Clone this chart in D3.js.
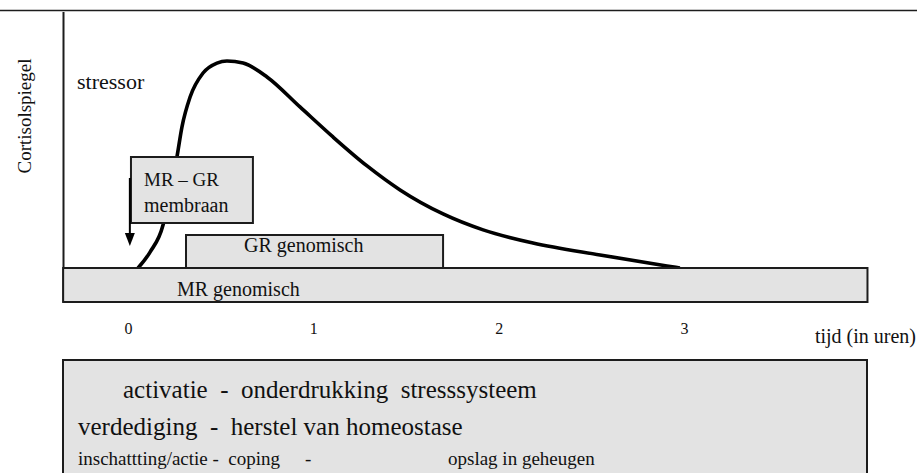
<!DOCTYPE html>
<html><head><meta charset="utf-8">
<script src="https://cdn.jsdelivr.net/npm/d3@7"></script>
<style>
html,body{margin:0;padding:0;background:#fff;}
svg{display:block;}
</style>
</head><body>
<svg id="c" width="917" height="473"></svg>
<script>
// ---- data ----
const hours    = [0.054,0.119,0.189,0.227,0.264,0.291,0.335,0.405,0.480,0.534,0.621,0.750,0.928,1.106,1.290,1.468,1.700,1.916,2.185,2.547,2.908,2.978];
const cortisol = [0,7.7,20.8,37,53.6,68.1,82.6,94.2,99.0,100,99.0,92.3,77.8,63.3,49.3,37.7,26.1,18.4,12.1,6.3,1.0,0];
const tickValues = [0,1,2,3];
const tickLabels = ["0","1","2","3"];
const bandNames  = ["MR genomisch","GR genomisch","MR – GR|membraan"];
const bandStart  = [-0.35,0.313,0.016];
const bandEnd    = [3.99,1.70,0.674];
const stressorOnset = 0.01;
const xTitle = "tijd (in uren)";
const yTitle = "Cortisolspiegel";
const stressorLabel = "stressor";
const summaryLines = ["activatie  -  onderdrukking  stresssysteem","verdediging  -  herstel van homeostase"];
const phaseLabels = ["inschattting/actie -  coping","-","opslag in geheugen"];

// ---- layout ----
const FONT = "Liberation Serif";
const svg = d3.select("#c");
const x = d3.scaleLinear().domain([0,3]).range([128,684]);
const y = d3.scaleLinear().domain([0,100]).range([268,61]);
const fill = "#e3e3e3", stroke = "#1c1c1c", ink = "#111111";
function txt(xp,yp,size,s){
  return svg.append("text").attr("x",xp).attr("y",yp)
    .attr("fill",ink).attr("xml:space","preserve")
    .style("font-family",FONT).style("font-size",size+"px")
    .style("white-space","pre").text(s);
}

// top rule
svg.append("line").attr("x1",0).attr("x2",917).attr("y1",10.5).attr("y2",10.5)
  .attr("stroke",stroke).attr("stroke-width",1.5);
// y axis line
svg.append("line").attr("x1",63.5).attr("x2",63.5).attr("y1",12).attr("y2",302)
  .attr("stroke",stroke).attr("stroke-width",2);

// cortisol curve
const pts = hours.map((h,i)=>[h,cortisol[i]]);
svg.append("path").datum(pts)
  .attr("d",d3.line().x(d=>x(d[0])).y(d=>y(d[1])).curve(d3.curveMonotoneX))
  .attr("fill","none").attr("stroke","#000").attr("stroke-width",3.6);

// receptor bands
const rows = [[268,302],[235,268],[157,223]];
bandNames.forEach((name,i)=>{
  const x0 = x(bandStart[i]), x1 = x(bandEnd[i]);
  svg.append("rect").attr("x",x0).attr("y",rows[i][0])
    .attr("width",x1-x0).attr("height",rows[i][1]-rows[i][0])
    .attr("fill",fill).attr("stroke",stroke).attr("stroke-width",2);
});
txt(177,296,20,bandNames[0]);
txt(244,252,20,bandNames[1]);
const mg = bandNames[2].split("|");
txt(144,186,19,mg[0]);
txt(144,212,20,mg[1]);

// stressor arrow
const ax = x(stressorOnset);
svg.append("line").attr("x1",ax).attr("x2",ax).attr("y1",178).attr("y2",236)
  .attr("stroke","#000").attr("stroke-width",2);
svg.append("path").attr("d",`M${ax-5},233 L${ax+5},233 L${ax},246 Z`).attr("fill","#000");

// labels
txt(77,89,22,stressorLabel);
txt(0,0,19,yTitle).attr("transform","translate(31,116) rotate(-90)").attr("text-anchor","middle");

// x tick labels via axis
const axis = d3.axisBottom(x).tickValues(tickValues).tickFormat((d,i)=>tickLabels[i]).tickSize(0).tickPadding(0);
const g = svg.append("g").attr("transform","translate(0,323)").call(axis);
g.select(".domain").remove();
g.selectAll("text").attr("fill",ink).style("font-family",FONT).style("font-size","16px");
txt(916,343,20,xTitle).attr("text-anchor","end");

// bottom summary box
svg.append("rect").attr("x",63).attr("y",360).attr("width",804).attr("height",130)
  .attr("fill",fill).attr("stroke",stroke).attr("stroke-width",2);
txt(123,398,25,summaryLines[0]);
txt(78,435,25,summaryLines[1]);
txt(78,465,19,phaseLabels[0]);
txt(305,465,19,phaseLabels[1]);
txt(448,465,19,phaseLabels[2]);
</script>
</body></html>
